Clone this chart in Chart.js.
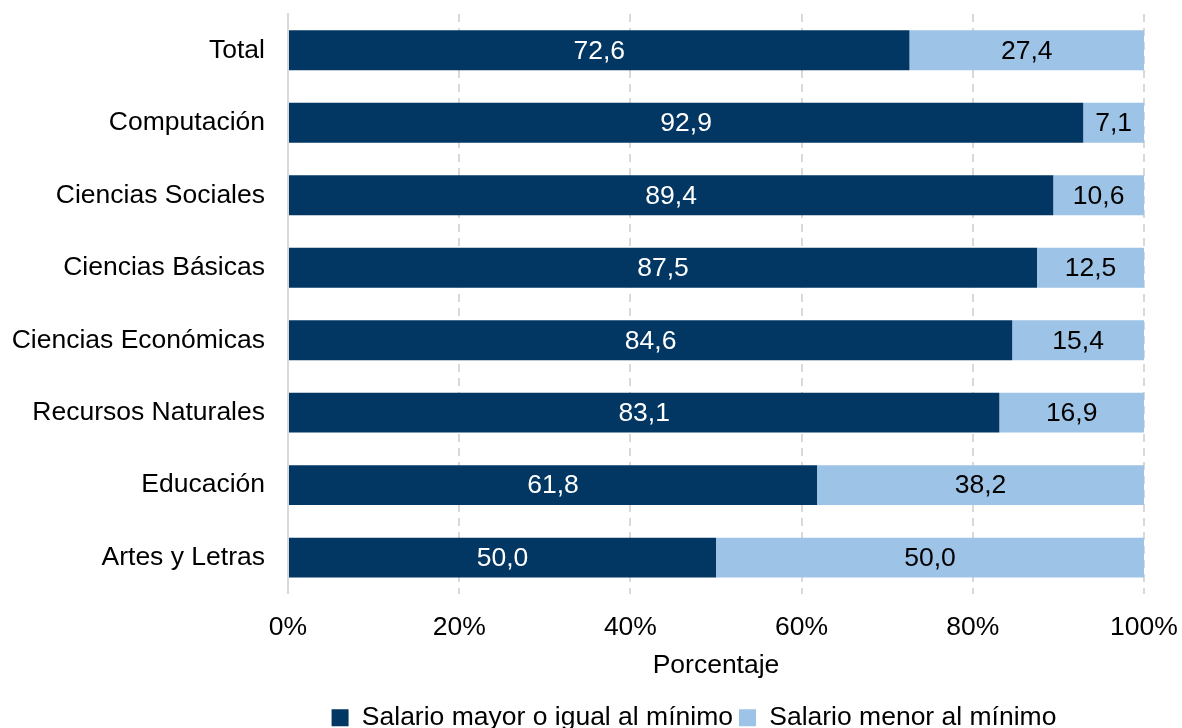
<!DOCTYPE html>
<html>
<head>
<meta charset="utf-8">
<script src="https://cdn.jsdelivr.net/npm/chart.js@4/dist/chart.umd.min.js"></script>
<style>
  html, body { margin: 0; padding: 0; background: #fff; }
  #wrap { width: 1182px; height: 728px; }
</style>
</head>
<body>
<div id="wrap"><canvas id="canva"></canvas></div>
<script>
const categories = [
  "Total",
  "Computación",
  "Ciencias Sociales",
  "Ciencias Básicas",
  "Ciencias Económicas",
  "Recursos Naturales",
  "Educación",
  "Artes y Letras",
];
const mayorIgual = [72.6, 92.9, 89.4, 87.5, 84.6, 83.1, 61.8, 50.0];
const menor = [27.4, 7.1, 10.6, 12.5, 15.4, 16.9, 38.2, 50.0];
const xTicks = [0, 20, 40, 60, 80, 100];

const FONT = "'Liberation Sans', Arial, sans-serif";
const SIZE = 26.5;

// etiquetas dentro de las barras (coma decimal)
const barLabels = {
  id: "barLabels",
  afterDatasetsDraw(chart) {
    const c = chart.ctx;
    c.save();
    c.font = SIZE + "px " + FONT;
    c.textAlign = "center";
    c.textBaseline = "middle";
    chart.data.datasets.forEach((ds, i) => {
      const meta = chart.getDatasetMeta(i);
      meta.data.forEach((el, j) => {
        const v = ds.data[j];
        c.fillStyle = i === 0 ? "#ffffff" : "#000000";
        c.fillText(v.toFixed(1).replace(".", ","), (el.x + el.base) / 2, el.y + 1);
      });
    });
    c.restore();
  },
};

// la leyenda del original esta corrida a la derecha
const shiftLegend = {
  id: "shiftLegend",
  afterLayout(chart) {
    const lg = chart.legend;
    if (!lg) return;
    const d = 98;
    lg.left += d;
    lg.right += d;
  },
};

const ctx = document.getElementById("canva").getContext("2d");
new Chart(ctx, {
  type: "bar",
  data: {
    labels: categories,
    datasets: [
      {
        label: "Salario mayor o igual al mínimo",
        data: mayorIgual,
        backgroundColor: "#023764",
        categoryPercentage: 1,
        barPercentage: 0.55,
      },
      {
        label: "Salario menor al mínimo",
        data: menor,
        backgroundColor: "#9dc3e6",
        categoryPercentage: 1,
        barPercentage: 0.55,
      },
    ],
  },
  options: {
    indexAxis: "y",
    responsive: true,
    maintainAspectRatio: false,
    animation: false,
    layout: { padding: { left: 10, right: 0, top: 14, bottom: -13 } },
    plugins: {
      legend: {
        position: "bottom",
        labels: {
          boxWidth: 17,
          boxHeight: 17,
          padding: 6,
          color: "#000",
          font: { family: FONT, size: SIZE },
        },
      },
      tooltip: { enabled: false },
    },
    scales: {
      x: {
        stacked: true,
        min: 0,
        max: 100,
        afterBuildTicks: (s) => { s.ticks = xTicks.map((v) => ({ value: v })); },
        afterFit: (s) => { s.paddingLeft = 0; s.paddingRight = 38; },
        ticks: {
          color: "#000",
          font: { family: FONT, size: SIZE },
          padding: 18,
          callback: (v) => v + "%",
        },
        grid: {
          color: "#d9d9d9",
          lineWidth: 2,
          drawTicks: false,
        },
        border: { display: false, dash: [8, 6] },
        title: {
          display: true,
          text: "Porcentaje",
          color: "#000",
          font: { family: FONT, size: SIZE },
          padding: { top: -12, bottom: 17 },
        },
      },
      y: {
        stacked: true,
        afterFit: (s) => { s.width = 278; s.paddingTop = 0; s.paddingBottom = 0; },
        ticks: {
          color: "#000",
          font: { family: FONT, size: SIZE },
          padding: 15,
        },
        grid: { display: false },
        border: { display: true, color: "#d9d9d9", width: 2 },
      },
    },
  },
  plugins: [barLabels, shiftLegend],
});
</script>
</body>
</html>
